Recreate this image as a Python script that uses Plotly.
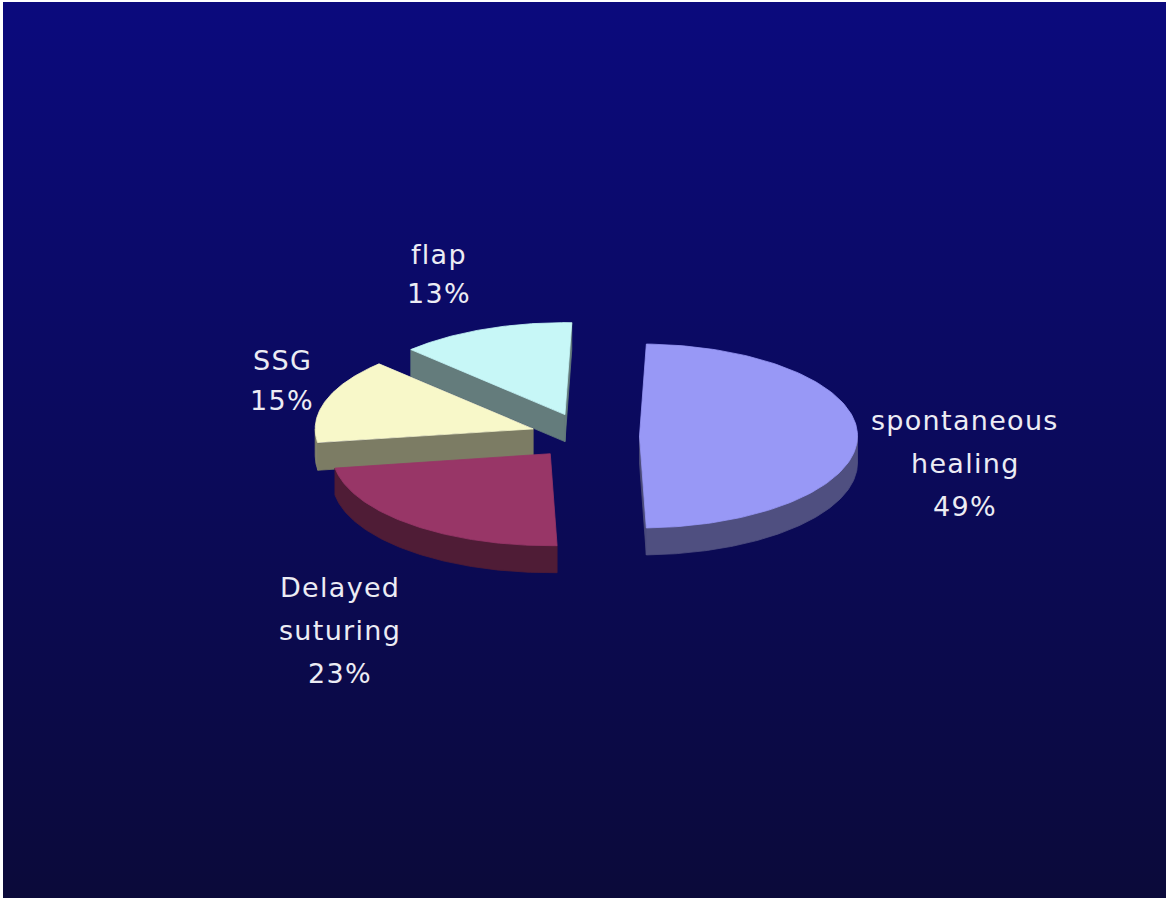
import numpy as np
import plotly.graph_objects as go

# ---- data -------------------------------------------------------------
categories = ["spontaneous healing", "Delayed suturing", "SSG", "flap"]
shares = [49, 23, 15, 13]          # percent
top_colors = ["#9898F6", "#983667", "#F8F8C9", "#C7F7F7"]

# ---- pie geometry (canvas pixels) ---------------------------------------
W, H = 1168, 899
CX, CY = 585, 436        # centre of the un-exploded pie
RX, RY = 218, 92         # ellipse radii of the top face
DEPTH = 27               # thickness of the disc
EXPLODE = 0.25           # slice offset, in radius units
ROTATION = 1.8           # first slice angle, degrees clockwise from 12 o'clock
WALL_SHADE = 0.52
FACE_SHADE = 0.50

# label anchors (centre of first line) and line spacing
label_pos = [(965, 420), (340, 587), (282, 360), (439, 254)]
line_gap = [43, 43, 40, 39.5]
LABEL_FONT = dict(family="DejaVu Sans", size=27, color="#ECECF4")
LETTER_SPACING = "1.3px"

BG_TOP = "rgb(11,10,125)"
BG_BOTTOM = "rgb(11,10,58)"


def shade(hex_color, k):
    h = hex_color.lstrip("#")
    r, g, b = (int(h[i:i + 2], 16) for i in (0, 2, 4))
    return f"rgb({round(r * k)},{round(g * k)},{round(b * k)})"


def rim(cx, cy, deg, dy=0.0):
    t = np.radians(deg)
    return cx + RX * np.sin(t), cy - RY * np.cos(t) + dy


def arc(cx, cy, a0, a1, dy=0.0, n=120):
    t = np.linspace(a0, a1, n)
    xs, ys = rim(cx, cy, t, dy)
    return list(xs), list(ys)


def poly_trace(xs, ys, color):
    return go.Scatter(
        x=xs + [xs[0]], y=ys + [ys[0]], mode="lines", fill="toself",
        fillcolor=color, line=dict(color=color, width=0.8),
        hoverinfo="skip", showlegend=False,
    )


fig = go.Figure()

# background panel with a vertical gradient
fig.add_trace(go.Scatter(
    x=[3, W - 2, W - 2, 3, 3], y=[2, 2, H - 1, H - 1, 2],
    mode="lines", fill="toself", line=dict(width=0),
    fillgradient=dict(type="vertical", start=2, stop=H - 1,
                      colorscale=[[0, BG_TOP], [1, BG_BOTTOM]]),
    hoverinfo="skip", showlegend=False,
))

# slice angles
slices = []
cum = 0.0
for i, v in enumerate(shares):
    t0 = ROTATION + cum * 3.6
    t1 = t0 + v * 3.6
    mid = (t0 + t1) / 2
    ox, oy = rim(0, 0, mid)
    cx, cy = CX + EXPLODE * ox, CY + EXPLODE * oy
    slices.append(dict(i=i, t0=t0, t1=t1, mid=mid, cx=cx, cy=cy))
    cum += v

# paint from the back of the disc to the front
for s in sorted(slices, key=lambda s: -np.cos(np.radians(s["mid"]))):
    c = top_colors[s["i"]]
    cx, cy, t0, t1 = s["cx"], s["cy"], s["t0"], s["t1"]

    # radial cut faces that turn towards the viewer
    for ang, facing in ((t0, -np.sin(np.radians(t0))), (t1, np.sin(np.radians(t1)))):
        if facing > 0.001:
            rx, ry = rim(cx, cy, ang)
            fig.add_trace(poly_trace([cx, rx, rx, cx], [cy, ry, ry + DEPTH, cy + DEPTH],
                                     shade(c, FACE_SHADE)))

    # outer curved wall on the front half
    a0, a1 = max(t0, 90), min(t1, 270)
    if a0 < a1:
        tx, ty = arc(cx, cy, a0, a1)
        bx, by = arc(cx, cy, a1, a0, DEPTH)
        fig.add_trace(poly_trace(tx + bx, ty + by, shade(c, WALL_SHADE)))

    # top face
    ax, ay = arc(cx, cy, t0, t1)
    fig.add_trace(poly_trace([cx] + ax, [cy] + ay, c))

# labels: category words stacked above the percentage
for i, (name, v) in enumerate(zip(categories, shares)):
    lines = name.split(" ") + [f"{v}%"]
    x0, y0 = label_pos[i]
    for k, txt in enumerate(lines):
        fig.add_annotation(
            x=x0, y=y0 + k * line_gap[i], xref="x", yref="y",
            text=f'<span style="letter-spacing:{LETTER_SPACING}">{txt}</span>',
            showarrow=False, xanchor="center", yanchor="middle",
            font=LABEL_FONT,
        )

fig.update_layout(
    width=W, height=H, margin=dict(l=0, r=0, t=0, b=0),
    paper_bgcolor="white", plot_bgcolor="white",
    xaxis=dict(range=[0, W], visible=False, fixedrange=True),
    yaxis=dict(range=[H, 0], visible=False, fixedrange=True),
)

fig.write_html("out.html")
